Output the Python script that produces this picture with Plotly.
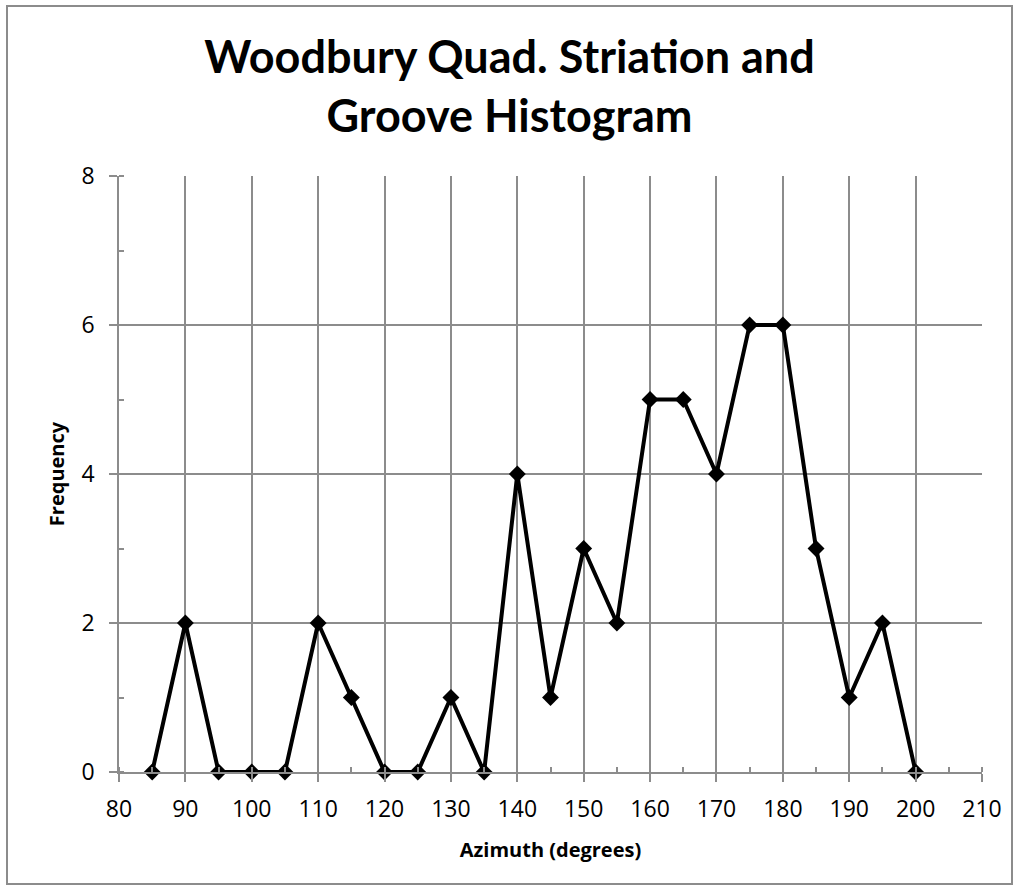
import plotly.graph_objects as go

azimuth = [85, 90, 95, 100, 105, 110, 115, 120, 125, 130, 135, 140, 145, 150,
           155, 160, 165, 170, 175, 180, 185, 190, 195, 200]
frequency = [0, 2, 0, 0, 0, 2, 1, 0, 0, 1, 0, 4, 1, 3,
             2, 5, 5, 4, 6, 6, 3, 1, 2, 0]

title_text = "Woodbury Quad. Striation and<br>Groove Histogram"
x_title = "Azimuth (degrees)"
y_title = "Frequency"

W, H = 1019, 890
L, R, T, B = 119, 37, 176, 118
pw, ph = W - L - R, H - T - B

fig = go.Figure()
fig.add_trace(go.Scatter(
    x=azimuth, y=frequency, mode="lines+markers",
    line=dict(color="black", width=4),
    marker=dict(symbol="diamond", size=13, color="black"),
    showlegend=False, cliponaxis=False,
))

grid = "#8c8c8c"
font = "Open Sans"
fig.update_layout(
    width=W, height=H,
    margin=dict(l=L, r=R, t=T, b=B),
    paper_bgcolor="white", plot_bgcolor="white",
    font=dict(family=font, color="black"),
    title=dict(text="<b>" + title_text + "</b>", x=0.5, xref="container",
               y=1 - 73 / H, yref="container", xanchor="center", yanchor="middle",
               font=dict(family="Lato", size=45, color="black")),
    xaxis=dict(range=[80, 210], dtick=10, tick0=80, showgrid=True, gridcolor=grid,
               gridwidth=1.5, showline=True, linecolor=grid, linewidth=1.5,
               ticks="outside", ticklen=8, tickcolor=grid, tickwidth=1.5,
               tickfont=dict(size=23), zeroline=False, ticklabelstandoff=8,
               minor=dict(ticks="inside", dtick=5, ticklen=5, tickcolor=grid, showgrid=False),
               title=dict(text="<b>" + x_title + "</b>", font=dict(size=20), standoff=20)),
    yaxis=dict(range=[0, 8], dtick=2, showgrid=True, gridcolor=grid, gridwidth=1.5,
               showline=True, linecolor=grid, linewidth=1.5,
               ticks="outside", ticklen=8, tickcolor=grid, tickwidth=1.5,
               tickfont=dict(size=23), zeroline=False, ticklabelstandoff=10,
               minor=dict(ticks="inside", dtick=1, ticklen=5, tickcolor=grid, showgrid=False),
               title=dict(text="<b>" + y_title + "</b>", font=dict(size=20), standoff=11)),
)

def px_x(p):
    return (p - L) / pw

def px_y(p):
    return 1 - (p - T) / ph

fig.add_shape(type="rect", xref="paper", yref="paper",
              x0=px_x(7), x1=px_x(1012), y0=px_y(884), y1=px_y(6),
              line=dict(color="#8c8c8c", width=2), layer="below")

fig.write_html("out.html", config={"displayModeBar": False},
               post_script="document.body.style.margin='0';")
